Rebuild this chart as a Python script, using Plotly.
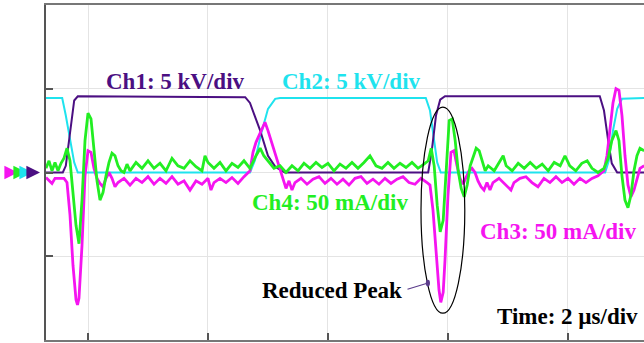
import plotly.graph_objects as go

# Time in microseconds, amplitude in screen divisions
CH1_T = [-0.70, -0.42, -0.37, -0.30, -0.23, -0.17, 2.62, 2.70, 2.87, 3.00, 3.12, 3.28,
         5.67, 5.73, 5.80, 5.87, 5.95, 8.53, 8.60, 8.67, 8.73, 8.82, 9.27]
CH1_V = [0.00, 0.00, 0.08, 0.50, 0.86, 0.91, 0.90, 0.83, 0.50, 0.20, 0.07, 0.00,
         0.00, 0.26, 0.68, 0.87, 0.91, 0.91, 0.74, 0.38, 0.11, 0.00, 0.00]

CH2_T = [-0.70, -0.43, -0.37, -0.30, -0.23, -0.17, 2.70, 2.78, 2.90, 3.00, 3.12, 3.20,
         5.63, 5.70, 5.77, 5.82, 5.88, 8.62, 8.68, 8.75, 8.82, 8.90, 9.27]
CH2_V = [0.89, 0.89, 0.68, 0.38, 0.12, 0.00, 0.00, 0.14, 0.50, 0.76, 0.88, 0.89,
         0.89, 0.74, 0.38, 0.12, 0.00, 0.00, 0.14, 0.50, 0.76, 0.88, 0.89]

CH3_T = [-0.70, -0.60, -0.55, -0.45, -0.40, -0.35, -0.30, -0.25, -0.20, -0.175, -0.15, -0.10,
         -0.05, 0.00, 0.05, 0.10, 0.15, 0.20, 0.25, 0.30, 0.35, 0.40, 0.45, 0.50, 0.60, 0.70,
         0.80, 0.90, 1.00, 1.10, 1.20, 1.30, 1.40, 1.50, 1.60, 1.70, 1.80, 1.90, 2.00, 2.05,
         2.10, 2.20, 2.30, 2.40, 2.50, 2.60, 2.70, 2.75, 2.80, 2.85, 2.90, 2.95, 3.00, 3.05,
         3.10, 3.15, 3.20, 3.25, 3.30, 3.35, 3.40, 3.45, 3.55, 3.65, 3.75, 3.85, 3.95, 4.05,
         4.15, 4.25, 4.35, 4.45, 4.55, 4.65, 4.75, 4.85, 4.95, 5.05, 5.15, 5.25, 5.35, 5.45,
         5.55, 5.65, 5.70, 5.75, 5.80, 5.85, 5.88, 5.92, 5.95, 6.00, 6.05, 6.10, 6.15, 6.20,
         6.25, 6.30, 6.35, 6.40, 6.45, 6.50, 6.55, 6.60, 6.65, 6.70, 6.75, 6.85, 6.95, 7.05,
         7.10, 7.20, 7.30, 7.40, 7.50, 7.60, 7.70, 7.80, 7.90, 8.00, 8.10, 8.20, 8.30, 8.40,
         8.50, 8.60, 8.65, 8.70, 8.75, 8.80, 8.85, 8.90, 8.95, 9.00, 9.05, 9.10, 9.15, 9.20,
         9.27]
CH3_V = [-0.06, -0.13, -0.07, -0.07, -0.07, -0.12, -0.51, -1.11, -1.52, -1.58, -1.50, -0.87,
         -0.04, 0.26, 0.24, 0.05, -0.07, -0.13, -0.17, -0.07, 0.00, -0.07, -0.17, -0.12, -0.07, -0.15,
         -0.07, -0.12, -0.05, -0.14, -0.07, -0.13, -0.05, -0.14, -0.10, -0.21, -0.10, -0.14, -0.07, -0.21,
         -0.12, -0.07, -0.12, -0.06, -0.13, -0.05, 0.02, 0.24, 0.36, 0.44, 0.52, 0.60, 0.50, 0.38,
         0.26, 0.14, 0.02, -0.10, -0.19, -0.10, -0.21, -0.12, -0.07, -0.14, -0.08, -0.05, -0.13, -0.07,
         -0.14, -0.08, -0.15, -0.07, -0.05, -0.13, -0.08, -0.14, -0.07, -0.13, -0.08, -0.05, -0.12, -0.14,
         -0.07, -0.12, -0.15, -0.45, -0.99, -1.40, -1.55, -1.43, -1.05, -0.27, 0.24, 0.26, 0.08, -0.07,
         -0.14, -0.05, 0.02, 0.05, 0.00, -0.10, -0.17, -0.21, -0.12, -0.21, -0.12, -0.07, -0.14, -0.21,
         -0.12, -0.07, -0.05, -0.12, -0.17, -0.07, -0.12, -0.05, -0.12, -0.07, -0.14, -0.07, -0.12, -0.07,
         -0.04, 0.02, 0.20, 0.50, 0.83, 1.00, 0.98, 0.68, 0.20, -0.15, -0.29, -0.21, -0.07, 0.05,
         0.08]

CH4_T = [-0.70, -0.65, -0.60, -0.55, -0.50, -0.45, -0.40, -0.35, -0.30, -0.25, -0.20, -0.15,
         -0.10, -0.05, 0.00, 0.05, 0.10, 0.15, 0.20, 0.25, 0.30, 0.35, 0.40, 0.45, 0.50, 0.55,
         0.60, 0.65, 0.70, 0.80, 0.90, 1.00, 1.10, 1.20, 1.30, 1.40, 1.50, 1.60, 1.70, 1.80,
         1.90, 1.95, 2.00, 2.10, 2.20, 2.30, 2.40, 2.50, 2.60, 2.70, 2.80, 2.87, 2.93, 3.00,
         3.10, 3.20, 3.30, 3.40, 3.50, 3.60, 3.70, 3.80, 3.90, 4.00, 4.10, 4.20, 4.30, 4.40,
         4.50, 4.60, 4.70, 4.80, 4.90, 5.00, 5.10, 5.20, 5.30, 5.40, 5.50, 5.60, 5.67, 5.72,
         5.77, 5.82, 5.87, 5.92, 5.97, 6.02, 6.07, 6.12, 6.17, 6.22, 6.27, 6.32, 6.37, 6.42,
         6.47, 6.52, 6.57, 6.62, 6.67, 6.77, 6.87, 6.92, 6.97, 7.07, 7.17, 7.27, 7.37, 7.47,
         7.57, 7.67, 7.77, 7.87, 7.95, 8.03, 8.13, 8.23, 8.32, 8.40, 8.50, 8.60, 8.67, 8.73,
         8.80, 8.85, 8.90, 8.95, 9.00, 9.05, 9.10, 9.15, 9.20, 9.27]
CH4_V = [0.05, 0.14, 0.02, 0.12, 0.02, 0.11, 0.17, 0.29, 0.14, -0.27, -0.63, -0.85,
         -0.33, 0.38, 0.71, 0.64, 0.26, -0.10, -0.33, -0.24, -0.04, 0.12, 0.23, 0.20, 0.08, 0.02,
         0.00, 0.10, 0.02, 0.12, 0.05, 0.14, 0.05, 0.11, 0.02, 0.17, 0.08, 0.05, 0.14, 0.07,
         0.02, 0.20, 0.12, 0.05, 0.12, 0.02, 0.11, 0.06, 0.14, 0.05, 0.20, 0.29, 0.20, 0.14,
         0.05, 0.08, 0.00, 0.08, 0.02, 0.11, 0.05, 0.12, 0.06, 0.11, 0.02, 0.10, 0.05, 0.12,
         0.05, 0.12, 0.20, 0.08, 0.05, 0.12, 0.05, 0.11, 0.06, 0.12, 0.05, 0.10, 0.14, 0.29,
         0.08, -0.39, -0.71, -0.57, 0.08, 0.62, 0.64, 0.38, 0.02, -0.19, -0.29, -0.15, 0.08, 0.20,
         0.29, 0.26, 0.14, 0.02, 0.08, 0.02, 0.14, 0.20, 0.08, 0.02, 0.11, 0.05, 0.12, 0.05,
         0.10, 0.02, 0.12, 0.08, 0.20, 0.08, 0.02, 0.11, 0.14, 0.05, 0.00, 0.05, 0.17, 0.38,
         0.50, 0.38, -0.04, -0.33, -0.42, -0.27, 0.02, 0.20, 0.29, 0.26]

X_TICKS = [0, 2, 4, 6, 8]
Y_TICKS = [-1, 0, 1]

PURPLE = "#4B0F82"
CYAN = "#1FE3EE"
MAGENTA = "#F514F0"
GREEN = "#22EE22"
FONT = "Liberation Serif"

fig = go.Figure()
fig.add_trace(go.Scatter(x=CH2_T, y=CH2_V, mode="lines", line=dict(color=CYAN, width=2)))
fig.add_trace(go.Scatter(x=CH1_T, y=CH1_V, mode="lines", line=dict(color=PURPLE, width=2)))
fig.add_trace(go.Scatter(x=CH3_T, y=CH3_V, mode="lines", line=dict(color=MAGENTA, width=2.8)))
fig.add_trace(go.Scatter(x=CH4_T, y=CH4_V, mode="lines", line=dict(color=GREEN, width=2.8)))

def label(text, x, y, color, anchor="left"):
    return dict(text="<b>" + text + "</b>", x=x, y=y, xref="x", yref="y", xanchor=anchor,
                yanchor="middle", showarrow=False, font=dict(family=FONT, size=23, color=color))

annotations = [
    label("Ch1: 5 kV/div", 0.27, 1.09, PURPLE),
    label("Ch2: 5 kV/div", 3.20, 1.09, CYAN),
    label("Ch4: 50 mA/div", 2.70, -0.36, GREEN),
    label("Ch3: 50 mA/div", 9.17, -0.71, MAGENTA, anchor="right"),
    label("Reduced Peak", 2.87, -1.41, "#000000"),
    label("Time: 2 \u00b5s/div", 6.78, -1.72, "#000000"),
    dict(text="", x=5.667, y=-1.319, xref="x", yref="y", ax=5.30, ay=-1.40, axref="x", ayref="y",
         showarrow=True, arrowhead=0, arrowwidth=1.2, arrowcolor="#5B3C8C"),
]
# channel ground markers at left
for col, tip, tail in [(MAGENTA, 18, 5), (GREEN, 27, 17), (CYAN, 33, 25), (PURPLE, 40, 32)]:
    annotations.append(dict(text="", x=(tip - 46) / 598, y=0, xref="paper", yref="y",
                            ax=tail - tip, ay=0, axref="pixel", ayref="pixel", showarrow=True,
                            arrowhead=2, arrowsize=1.7, arrowwidth=1.6, arrowcolor=col))

shapes = [
    dict(type="circle", xref="x", yref="y", x0=5.55, x1=6.28, y0=-1.68, y1=0.78,
         line=dict(color="black", width=1.2)),
    dict(type="circle", xref="x", yref="y", x0=5.63, x1=5.70, y0=-1.36, y1=-1.28,
         fillcolor="#5B3C8C", line=dict(color="#5B3C8C", width=0)),
]

fig.update_layout(
    width=644, height=343,
    margin=dict(l=46, r=0, t=5, b=3),
    paper_bgcolor="white", plot_bgcolor="white",
    showlegend=False,
    annotations=annotations,
    shapes=shapes,
    xaxis=dict(range=[-0.70, 9.267], tickvals=X_TICKS, showticklabels=False, ticks="inside",
               ticklen=7, tickwidth=1.5, tickcolor="#555", showgrid=True, gridcolor="#e4e4e4",
               gridwidth=1, showline=True, linecolor="#777", linewidth=2, mirror=True,
               zeroline=False),
    yaxis=dict(range=[-2, 2], tickvals=Y_TICKS, showticklabels=False, ticks="inside",
               ticklen=7, tickwidth=1.5, tickcolor="#555", showgrid=True, gridcolor="#e4e4e4",
               gridwidth=1, showline=True, linecolor="#555", linewidth=2, zeroline=False),
)

fig.write_html("out.html")
